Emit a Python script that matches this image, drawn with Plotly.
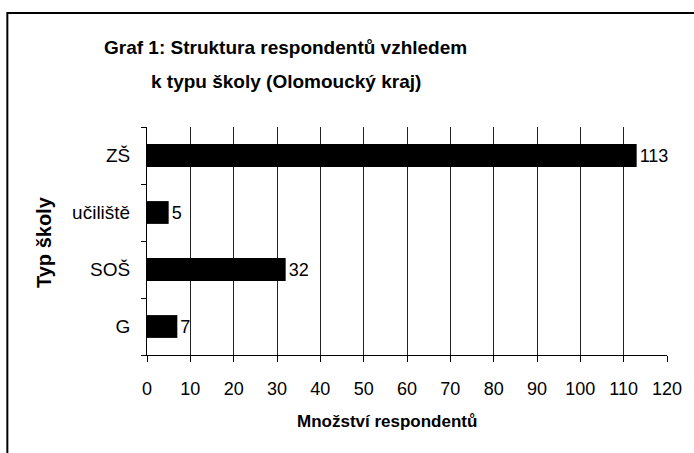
import plotly.graph_objects as go

categories = ["G", "SOŠ", "učiliště", "ZŠ"]
values = [7, 32, 5, 113]
x_ticks = list(range(0, 121, 10))

title_line1 = "Graf 1: Struktura respondentů vzhledem"
title_line2 = "k typu školy (Olomoucký kraj)"
x_title = "Množství respondentů"
y_title = "Typ školy"

FONT = "Liberation Sans, Arial, sans-serif"

fig = go.Figure(go.Bar(
    x=values, y=categories, orientation="h",
    marker=dict(color="black", line=dict(width=0)),
    width=0.4,
    text=[str(v) for v in values], textposition="outside",
    textfont=dict(family=FONT, size=18, color="black"),
    cliponaxis=False,
))

L, R, T, B = 147, 22, 127, 98
W, H = 694, 453
pw, ph = W - L - R, H - T - B

def px_x(p):
    return (p - L) / pw

def px_y(p):
    return (H - B - p) / ph

fig.update_layout(
    width=W, height=H,
    margin=dict(l=L, r=R, t=T, b=B),
    paper_bgcolor="white", plot_bgcolor="white",
    showlegend=False,
    font=dict(family=FONT, size=18, color="black"),
    xaxis=dict(range=[0, 120], tickvals=x_ticks, showgrid=True,
               gridcolor="#222222", gridwidth=1, zeroline=False,
               showline=True, linecolor="black", linewidth=1,
               ticks="outside", ticklen=6, tickcolor="black",
               ticklabelstandoff=11,
               tickfont=dict(size=18), fixedrange=True),
    yaxis=dict(categoryorder="array", categoryarray=categories,
               showgrid=False, zeroline=False, showline=True,
               linecolor="black", linewidth=1,
               ticks="outside", ticklen=5, tickcolor="black",
               tickson="boundaries", ticklabelstandoff=12,
               tickfont=dict(size=19), fixedrange=True),
    shapes=[dict(type="rect", xref="paper", yref="paper",
                 x0=px_x(6), x1=px_x(705), y0=px_y(470), y1=px_y(13),
                 line=dict(color="black", width=2), fillcolor="rgba(0,0,0,0)",
                 layer="below")],
    annotations=[
        dict(text="<b>%s</b>" % title_line1, xref="paper", yref="paper",
             x=px_x(287), y=px_y(48), xanchor="center", yanchor="middle",
             showarrow=False, font=dict(size=19)),
        dict(text="<b>%s</b>" % title_line2, xref="paper", yref="paper",
             x=px_x(287), y=px_y(82), xanchor="center", yanchor="middle",
             showarrow=False, font=dict(size=19)),
        dict(text="<b>%s</b>" % x_title, xref="paper", yref="paper",
             x=px_x(389), y=px_y(421), xanchor="center", yanchor="middle",
             showarrow=False, font=dict(size=17)),
        dict(text="<b>%s</b>" % y_title, xref="paper", yref="paper",
             x=px_x(43), y=px_y(242), xanchor="center", yanchor="middle",
             textangle=-90, showarrow=False, font=dict(size=20)),
    ],
)

fig.write_html("out.html", config={"displayModeBar": False},
               post_script="document.body.style.margin='0';")
